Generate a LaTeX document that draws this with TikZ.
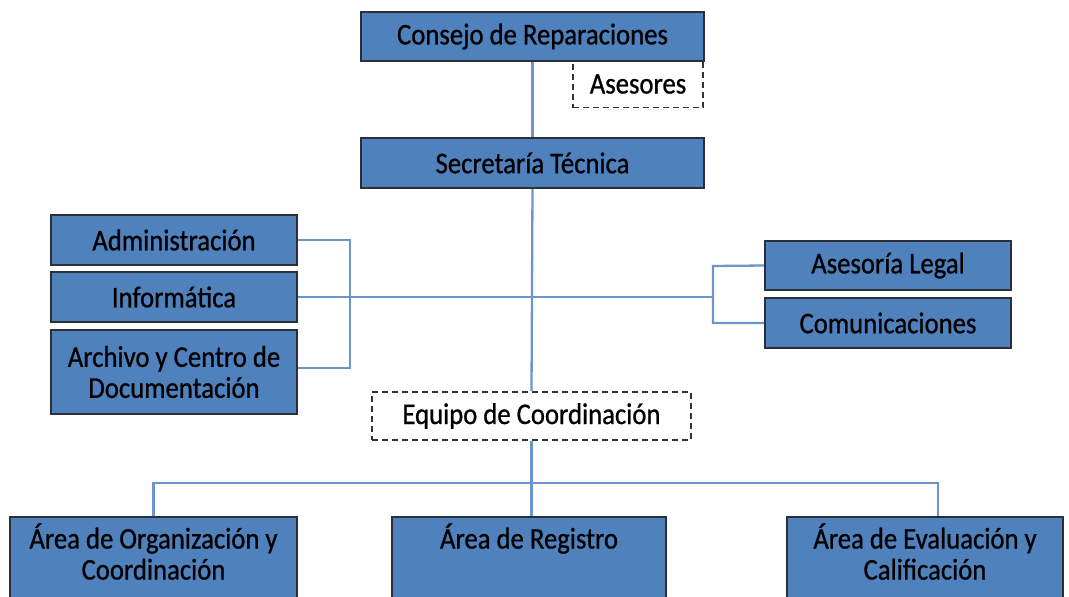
\documentclass[tikz,border=0pt]{standalone}
\usepackage{fontspec}
\setmainfont{Carlito}[FakeStretch=0.89,FakeBold=0.8]
\usetikzlibrary{positioning}
\definecolor{cajaazul}{HTML}{4F81BD}
\definecolor{bordecaja}{HTML}{2A2F38}
\definecolor{lineaazul}{HTML}{6E95CA}

\begin{document}
\begin{tikzpicture}[x=1pt,y=-1pt,
  caja/.style={draw=bordecaja, line width=1.6pt, fill=cajaazul, inner sep=0pt,
    align=center, font=\fontsize{30}{31}\selectfont},
  area/.style={caja, execute at end node={\rule[-15pt]{0pt}{0pt}}},
  punteada/.style={draw=black!80, line width=1.6pt, dash pattern=on 6pt off 4pt,
    fill=white, inner sep=0pt, align=center, font=\fontsize{30}{31}\selectfont},
  enlace/.style={draw=lineaazul, line width=2.3pt}]
\useasboundingbox (0,0) rectangle (1069,597);
\clip (0,0) rectangle (1069,597);

% cabeza
\node[punteada, minimum width=130pt, minimum height=47pt] (asesores) at (638,84) {Asesores};
\node[caja, minimum width=343pt, minimum height=49pt] (consejo) at (532.5,36.5) {Consejo de Reparaciones};
\node[caja, minimum width=343pt, minimum height=50pt] (secretaria) at (532.5,163) {Secretaría Técnica};

% apoyo izquierda y derecha
\node[caja, minimum width=246pt, minimum height=50pt] (admin) at (174,240) {Administración};
\node[caja, minimum width=246pt, minimum height=50pt] (informatica) at (174,297) {Informática};
\node[caja, minimum width=246pt, minimum height=84pt] (archivo) at (174,372) {Archivo y Centro de\\Documentación};
\node[caja, minimum width=246pt, minimum height=49pt] (legal) at (888,265.5) {Asesoría Legal};
\node[caja, minimum width=246pt, minimum height=50pt] (comunicaciones) at (888,323) {Comunicaciones};

\node[punteada, minimum width=319pt, minimum height=48pt] (equipo) at (531.5,416) {Equipo de Coordinación};

% areas
\node[area, minimum width=287pt, minimum height=84pt] (organizacion) at (153.5,559) {Área de Organización y\\Coordinación};
\node[area, minimum width=274pt, minimum height=84pt] (registro) at (529,559) {Área de Registro\\\phantom{Coordinación}};
\node[area, minimum width=276pt, minimum height=84pt] (evaluacion) at (925,559) {Área de Evaluación y\\Calificación};

% conectores
\coordinate (llaveI) at (350,240);
\coordinate (llaveD) at (713,266);
\coordinate (barraI) at (153.5,483);
\coordinate (barraD) at (938,483);
\draw[enlace] (consejo.south) -- (secretaria.north);
\draw[enlace] (secretaria.south) -- (equipo.north);
\draw[enlace] (admin.east) -- (llaveI) |- ([yshift=4pt]archivo.east);
\draw[enlace] (legal.west) -- (llaveD) |- (comunicaciones.west);
\draw[enlace] (informatica.east) -- (informatica.east -| llaveD);
\draw[enlace] (equipo.south) -- (equipo.south |- registro.north);
\draw[enlace] (organizacion.north) -- (barraI) -- (barraD) -- (barraD |- evaluacion.north);
\end{tikzpicture}
\end{document}
